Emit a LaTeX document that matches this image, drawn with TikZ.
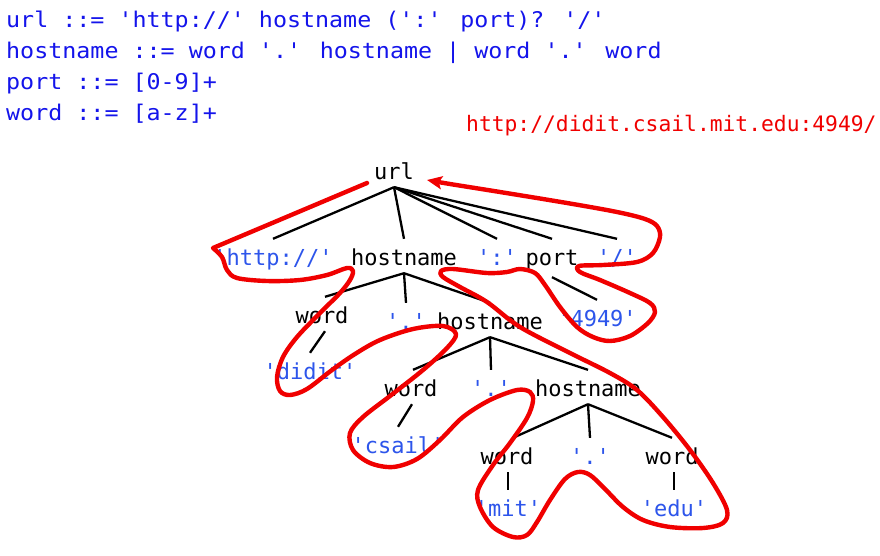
\documentclass[tikz,border=0pt]{standalone}
\usepackage{fontspec}
\usetikzlibrary{arrows.meta}
\newfontfamily\treefont[Ligatures=TeXOff]{DejaVu Sans Mono}
\newfontfamily\gramfont[Ligatures=TeXOff,FakeStretch=1.08]{DejaVu Sans Mono}
\definecolor{gblue}{RGB}{20,20,235}
\definecolor{tblue}{RGB}{45,85,235}
\definecolor{myred}{RGB}{240,0,0}
\tikzset{
 tn/.style={font=\fontsize{22}{26}\selectfont\treefont, inner sep=0pt, text height=26pt, text depth=8pt, anchor=base},
 nt/.style={tn, text=black},
 term/.style={tn, text=tblue},
 gram/.style={font=\fontsize{21.6}{26}\selectfont\gramfont, text=gblue, inner sep=0pt, anchor=base west},
 tedge/.style={draw=black, line width=2.3pt},
 trace/.style={draw=myred, line width=4.4pt, line cap=round, line join=round}
}
\begin{document}
\begin{tikzpicture}[x=1pt,y=-1pt]
\useasboundingbox (0,0) rectangle (880,555);
\fill[white] (0,0) rectangle (880,555);
% grammar
\node[gram] (g1) at (6,27.5) {url ::= 'http://' hostname (':' port)? '/'};
\node[gram] (g2) at (6,58.3) {hostname ::= word '.' hostname | word '.' word};
\node[gram] (g3) at (6,89.3) {port ::= [0-9]+};
\node[gram] (g4) at (6,120.3) {word ::= [a-z]+};
\node[font=\fontsize{21.3}{25}\selectfont\treefont, text=myred, inner sep=0pt, anchor=base west] (urltext) at (466,131.5) {http://didit.csail.mit.edu:4949/};
% tree nodes
\node[nt] (url) at (394,179) {url};
\node[term] (http) at (273,265) {'http://'};
\node[nt] (h1) at (404,265) {hostname};
\node[term] (c1) at (497,265) {':'};
\node[nt] (port) at (552,265) {port};
\node[term] (sl) at (617,265) {'/'};
\node[nt] (w2) at (322,323) {word};
\node[term] (d2) at (406,329) {'.'};
\node[nt] (h2) at (490,329) {hostname};
\node[term] (p49) at (597,326) {'4949'};
\node[term] (didit) at (310,379) {'didit'};
\node[nt] (w3) at (411,396) {word};
\node[term] (d3) at (491,396) {'.'};
\node[nt] (h3) at (588,396) {hostname};
\node[term] (csail) at (398,453) {'csail'};
\node[nt] (w4) at (507,464) {word};
\node[term] (d4) at (590,464) {'.'};
\node[nt] (w5) at (672,464) {word};
\node[term] (mit) at (508,516) {'mit'};
\node[term] (edu) at (674,516) {'edu'};
% tree edges
\draw[tedge] (url.south) -- (http.north);
\draw[tedge] (url.south) -- (h1.north);
\draw[tedge] (url.south) -- (c1.north);
\draw[tedge] (url.south) -- (port.north);
\draw[tedge] (url.south) -- (sl.north);
\draw[tedge] (h1.south) -- ([xshift=3pt]w2.north);
\draw[tedge] (h1.south) -- (d2.north);
\draw[tedge] (h1.south) -- (h2.north);
\draw[tedge] ([yshift=-4pt]port.south) -- (p49.north);
\draw[tedge] ([xshift=3pt]w2.south) -- (didit.north);
\draw[tedge] (h2.south) -- ([xshift=2pt]w3.north);
\draw[tedge] (h2.south) -- (d3.north);
\draw[tedge] (h2.south) -- (h3.north);
\draw[tedge] ([xshift=1pt]w3.south) -- (csail.north);
\draw[tedge] (h3.south) -- ([xshift=6pt]w4.north);
\draw[tedge] (h3.south) -- (d4.north);
\draw[tedge] (h3.south) -- (w5.north);
\draw[tedge] ([xshift=1pt]w4.south) -- (mit.north);
\draw[tedge] ([xshift=2pt]w5.south) -- (edu.north);
% red traversal
\coordinate (tstart) at (367,183);
\draw[trace,-{Stealth[length=15pt,width=13pt,inset=3pt]}] (tstart) -- plot[smooth,tension=0.55] coordinates {
(213,248) (222,257) (227,270) (237,278) (267,281) (300,280) (327,275) (347,268) (353,271) (350,280)
(340,293) (320,313) (297,337) (283,357) (277,377) (280,391) (290,395) (307,389) (332,370) (355,354)
(380,340) (413,329) (443,326) (456,334) (447,348) (423,370) (390,396) (363,417) (350,433) (353,450)
(370,463) (393,467) (417,459) (440,440) (463,417) (490,400) (517,390) (530,392) (533,401) (527,418)
(510,443) (493,465) (478,490) (480,507) (493,527) (513,537) (527,535) (537,522) (550,500) (565,479)
(578,472) (590,475) (605,489) (623,507) (643,520) (670,527) (703,528) (723,523) (727,510) (713,483)
(690,450) (663,417) (637,390) (610,373) (570,353) (520,327) (487,302) (460,287) (443,277) (441,271)
(453,269) (487,273) (507,272) (520,269) (535,273) (545,285) (560,307) (577,327) (593,337) (610,341)
(630,336) (648,323) (655,312) (650,303) (630,293) (600,280) (580,272) (579,266) (603,265) (637,262)
(653,253) (660,237) (657,226) (645,219) (617,212) (567,203) (500,192) (450,184) (427,180)};
\end{tikzpicture}
\end{document}
